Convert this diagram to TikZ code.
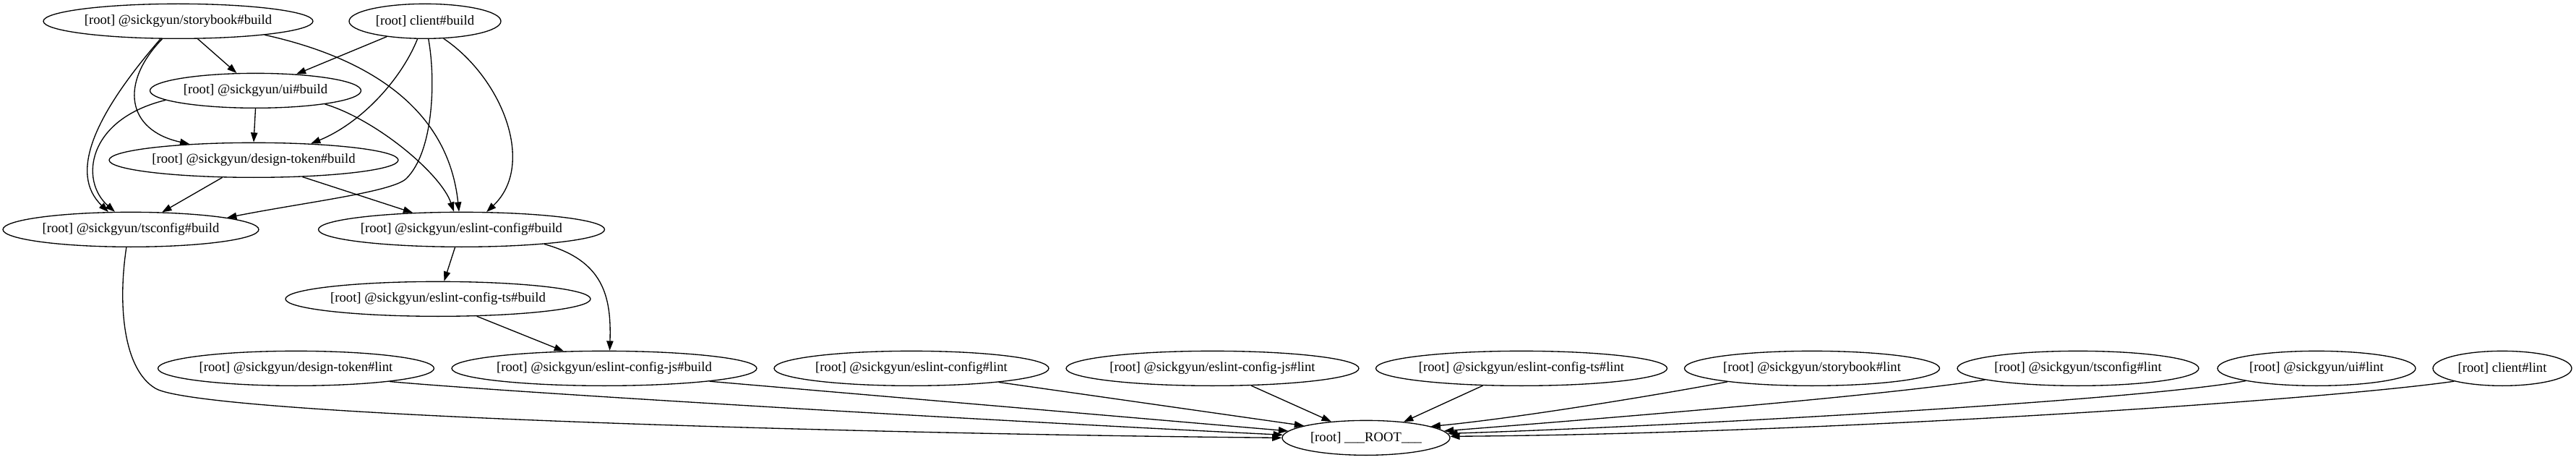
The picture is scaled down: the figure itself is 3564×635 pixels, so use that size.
\documentclass[tikz,border=0pt]{standalone}
\usepackage{fontspec}
\setmainfont{Liberation Serif}
\usetikzlibrary{shapes.geometric,arrows.meta}
\tikzset{
  gnode/.style={draw, ellipse, line width=1.33pt, inner sep=0pt, minimum height=48pt,
    font=\fontsize{18.67}{22}\selectfont},
  gedge/.style={line width=1.33pt, -{Triangle[length=13.3pt,width=9.3pt]}},
}
\begin{document}
\begin{tikzpicture}[x=1pt,y=-1pt]
\useasboundingbox (0,0) rectangle (3564,635);
% rank 0
\node[gnode, minimum width=373pt] (sb) at (246.5,29.33) {[root] @sickgyun/storybook\#build};
\node[gnode, minimum width=210pt] (cb) at (588,29.33) {[root] client\#build};
% rank 1
\node[gnode, minimum width=292pt] (ui) at (353.5,125.33) {[root] @sickgyun/ui\#build};
% rank 2
\node[gnode, minimum width=400pt] (dt) at (351,221.33) {[root] @sickgyun/design-token\#build};
% rank 3
\node[gnode, minimum width=354pt] (ts) at (181,317.33) {[root] @sickgyun/tsconfig\#build};
\node[gnode, minimum width=396pt] (ec) at (638.5,317.33) {[root] @sickgyun/eslint-config\#build};
% rank 4
\node[gnode, minimum width=422pt] (ect) at (606,413.33) {[root] @sickgyun/eslint-config-ts\#build};
% rank 5
\node[gnode, minimum width=382pt] (dtl) at (409.5,509.33) {[root] @sickgyun/design-token\#lint};
\node[gnode, minimum width=422pt] (ecj) at (836,509.33) {[root] @sickgyun/eslint-config-js\#build};
\node[gnode, minimum width=380pt] (ecl) at (1261,509.33) {[root] @sickgyun/eslint-config\#lint};
\node[gnode, minimum width=405pt] (ecjl) at (1677.5,509.33) {[root] @sickgyun/eslint-config-js\#lint};
\node[gnode, minimum width=403pt] (ectl) at (2105,509.33) {[root] @sickgyun/eslint-config-ts\#lint};
\node[gnode, minimum width=353pt] (sbl) at (2507,509.33) {[root] @sickgyun/storybook\#lint};
\node[gnode, minimum width=334pt] (tsl) at (2875,509.33) {[root] @sickgyun/tsconfig\#lint};
\node[gnode, minimum width=274pt] (uil) at (3205,509.33) {[root] @sickgyun/ui\#lint};
\node[gnode, minimum width=192pt] (cl) at (3462,509.33) {[root] client\#lint};
% rank 6
\node[gnode, minimum width=232pt] (root) at (1890,605.33) {[root] \_\_\_ROOT\_\_\_};

% edges
\draw[gedge] (sb.318.1) -- (ui.137.2);
\draw[gedge] (sb.225.4) .. controls (130,160) and (95,240) .. (ts.142.7);
\draw[gedge] (ui.186.4) .. controls (120,165) and (110,250) .. (ts.132.7);
\draw[gedge] (sb.228) .. controls (165,115) and (175,180) .. (dt.166.8);
\draw[gedge] (ui.south) -- (dt.north);
\draw[gedge] (dt.209.8) -- (ts.29);
\draw[gedge] (cb.202.4) -- (ui.22.2);
\draw[gedge] (cb.247.3) .. controls (555,110) and (500,170) .. (dt.16.8);
\coordinate (cbk) at (562,247);
\draw[gedge] (cb.281.8) .. controls (603,110) and (600,210) .. (cbk)
  .. controls (543,265.5) and (420,280) .. (ts.7.2);
\draw[gedge] (cb.317) .. controls (695,108) and (742,228) .. (ec.35.2);
\draw[gedge] (sb.351.4) .. controls (510,80) and (620,150) .. (ec.98.3);
\draw[gedge] (ui.349) .. controls (520,165) and (610,240) .. (ec.113.7);
\draw[gedge] (dt.341.4) -- (ec.161.2);
\coordinate (tsk) at (215,537);
\draw[gedge] (ts.256) .. controls (163,420) and (170,510) .. (tsk)
  .. controls (280,575) and (1200,600) .. (root.180.5);
\draw[gedge] (dtl.352.8) .. controls (700,542) and (1300,578) .. (root.178.5);
\draw[gedge] (ecj.353.65) -- (root.175.5);
\draw[gedge] (ecl.351.1) -- (root.169.5);
\draw[gedge] (ecjl.336.4) -- (root.155);
\draw[gedge] (ectl.204) -- (root.23.4);
\draw[gedge] (sbl.189) .. controls (2300,545) and (2100,578) .. (root.10.4);
\draw[gedge] (tsl.187.9) .. controls (2600,548) and (2200,580) .. (root.5.3);
\draw[gedge] (uil.190.3) .. controls (2950,555) and (2300,590) .. (root.3.1);
\draw[gedge] (cl.195.2) .. controls (3200,555) and (2500,600) .. (root.1);
\draw[gedge] (ec.250.5) -- (ect.71.6);
\draw[gedge] (ec.350.15) .. controls (835,360) and (846,410) .. (ecj.73.7);
\draw[gedge] (ect.336.75) -- (ecj.157.6);
\end{tikzpicture}
\end{document}
